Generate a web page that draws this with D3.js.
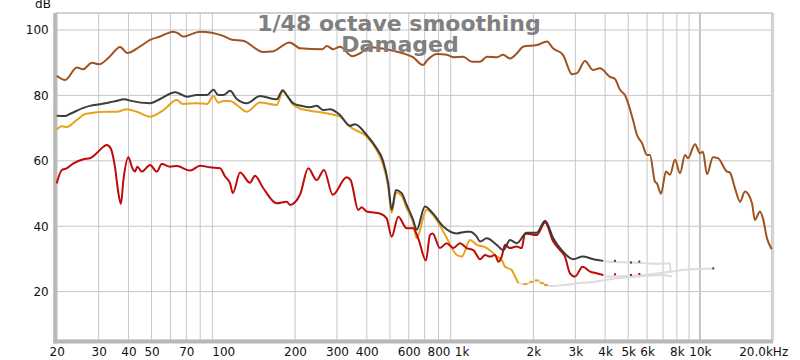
<!DOCTYPE html>
<html>
<head>
<meta charset="utf-8">
<script src="https://cdn.jsdelivr.net/npm/d3@7"></script>
<style>
  body { margin: 0; background: #fff; }
  svg { font-family: 'DejaVu Sans', sans-serif; }
</style>
</head>
<body>
<div id="chart"></div>
<script>
// Frequency response readings (Hz, dB)
let brownHz = [20, 21.7, 24.3, 25.8, 28.1, 30.1, 33.5, 36.9, 39.5, 44.8, 49.3, 54.3, 61.6, 64.6, 67.8, 79.9, 100, 109, 121, 147, 160, 190, 210, 260, 272, 289, 309, 347, 375, 413, 500, 567, 625, 688, 722, 788, 868, 920, 1014, 1106, 1195, 1278, 1408, 1492, 1596, 1708, 1810, 2072, 2282, 2417, 2663, 2905, 3048, 3294, 3557, 3806, 4192, 4400, 4618, 4843, 5237, 5443, 5713, 5995, 6170, 6475, 6600, 6863, 7200, 7486, 7857, 8246, 8655, 8905, 9533, 10000, 10294, 10700, 11340, 11900, 12980, 13365, 14027, 14722, 15451, 16530, 17010, 17855, 18380, 19110, 20000]
let brownDb = [86.0, 84.7, 88.5, 88.0, 90.0, 89.5, 92.0, 94.8, 93.0, 95.0, 97.0, 98.0, 99.5, 99.0, 98.0, 99.5, 98.2, 97.0, 96.7, 93.3, 93.4, 96.2, 94.4, 94.1, 95.1, 94.1, 94.9, 92.0, 92.9, 94.7, 93.9, 92.9, 91.7, 89.3, 91.0, 92.7, 92.4, 91.7, 91.8, 90.3, 90.3, 91.8, 91.7, 92.4, 91.3, 92.9, 94.9, 95.4, 96.5, 94.4, 92.4, 86.5, 86.8, 90.5, 87.8, 88.3, 85.7, 85.0, 81.7, 80.1, 72.5, 67.9, 65.4, 61.8, 61.8, 53.6, 53.1, 49.9, 56.7, 55.7, 60.3, 56.2, 61.8, 60.8, 65.1, 62.3, 62.8, 55.9, 61.1, 60.8, 56.7, 56.4, 51.6, 47.5, 50.6, 47.0, 41.9, 44.5, 42.4, 36.3, 33.0]

let grayHz = [20, 21.7, 22.7, 25.9, 27.6, 30.4, 34.6, 38.7, 40.6, 49.3, 54.3, 62.8, 70.3, 77.4, 85.5, 90.9, 95.3, 100, 106.8, 113.9, 125.4, 142.5, 167.5, 177.5, 184.5, 196.7, 209.8, 231, 246.5, 262.8, 280.4, 308.9, 340, 356.8, 399.6, 440, 466.4, 492, 508.6, 530.4, 560, 588, 626.6, 647.4, 701.6, 755.8, 837.4, 953.9, 1050, 1085, 1157, 1195, 1274, 1404, 1496, 1596, 1703, 1876, 2066, 2239, 2424, 2629, 2941, 3221, 3568, 3929]
let grayDb = [73.8, 73.7, 74.3, 76.2, 76.8, 77.3, 78.1, 78.8, 78.4, 77.6, 78.9, 81.0, 79.6, 80.1, 80.1, 81.7, 80.1, 80.1, 81.4, 78.9, 77.6, 79.8, 78.8, 81.6, 80.1, 77.6, 76.9, 76.4, 76.8, 75.5, 75.8, 74.0, 70.7, 71.2, 67.9, 63.8, 60.3, 53.1, 45.0, 51.1, 50.1, 46.5, 41.9, 38.9, 46.0, 44.0, 39.9, 37.8, 38.3, 38.3, 36.8, 35.3, 36.3, 34.3, 32.7, 35.8, 34.8, 38.0, 38.0, 41.7, 36.3, 32.7, 29.9, 30.7, 29.9, 29.4]

let orangeHz = [20, 21.0, 22.0, 24.3, 26.3, 28.5, 31.9, 35.7, 39.3, 43.3, 49.3, 56.1, 63.8, 67.6, 77.4, 85.5, 90.9, 95.3, 100, 106.8, 113.9, 125.4, 142.5, 167.5, 177.5, 196.7, 209.8, 231, 262.8, 308.9, 340, 399.6, 440, 466.4, 492, 508.6, 530.4, 560, 588, 626.6, 647.4, 713, 785, 865, 954, 1001, 1085, 1157, 1254, 1338, 1404, 1473, 1521, 1622, 1675, 1729]
let orangeDb = [69.6, 70.6, 70.3, 72.5, 74.3, 74.7, 75.0, 75.0, 75.8, 75.0, 73.5, 75.5, 78.6, 77.4, 77.6, 77.4, 79.8, 77.8, 78.3, 78.3, 77.1, 75.0, 77.8, 77.1, 81.1, 77.1, 76.0, 75.3, 74.7, 73.5, 70.4, 67.4, 63.3, 59.2, 52.1, 44.1, 50.3, 49.3, 45.5, 40.9, 36.3, 45.0, 41.9, 36.5, 31.2, 30.7, 35.8, 34.3, 33.6, 32.2, 30.7, 29.7, 27.6, 26.6, 24.6, 22.6]

let redHz = [20, 21.0, 22.0, 23.5, 25.9, 27.6, 29.4, 31.4, 32.4, 33.7, 35.1, 36.3, 37.2, 38.1, 40.0, 41.3, 42.6, 43.6, 45.5, 49.3, 52.6, 55.2, 59.8, 63.8, 72.6, 79.9, 88.0, 96.9, 101.7, 106.8, 109.6, 117.6, 129.4, 135.8, 147.2, 167.5, 184.5, 190.5, 209.8, 227.3, 246.5, 264.6, 287.8, 329.4, 342.3, 368.4, 380.7, 399.6, 454.4, 484.7, 508.6, 542.2, 588, 626.6, 657.6, 708.5, 736.4, 755.8, 811.2, 865, 923, 984.7, 1050, 1120, 1195, 1254, 1316, 1381, 1426, 1473, 1521, 1596, 1703, 1786, 1845, 2066, 2239, 2424, 2586, 2714, 2849, 2990, 3221, 3457, 3686, 3929]
let redDb = [53.1, 57.2, 57.7, 59.2, 60.5, 60.8, 62.3, 64.3, 64.8, 63.8, 58.2, 50.1, 46.8, 54.1, 61.1, 58.2, 56.7, 58.2, 56.7, 58.7, 56.7, 59.0, 58.2, 58.4, 57.0, 58.5, 58.0, 57.7, 55.2, 53.1, 50.1, 56.4, 53.3, 55.4, 51.6, 47.0, 47.5, 46.5, 49.6, 57.7, 54.1, 57.2, 49.6, 55.0, 54.1, 45.0, 45.8, 44.5, 43.9, 42.4, 36.8, 42.9, 39.4, 39.4, 36.3, 29.5, 37.3, 37.8, 33.3, 34.8, 33.3, 34.8, 33.3, 32.7, 29.9, 31.2, 30.7, 31.2, 29.1, 30.7, 34.3, 33.3, 33.8, 33.3, 37.8, 37.3, 41.1, 35.3, 32.7, 30.7, 25.6, 24.6, 27.6, 26.1, 25.6, 25.1]

// below-noise continuations, drawn faint
let orangeFaintHz = [1729, 1845, 2066, 2275, 2365, 2670, 3138, 3686, 4192, 5087, 5975, 7017, 7606]
let orangeFaintDb = [22.6, 22.3, 23.4, 22.0, 21.7, 22.0, 22.6, 23.1, 23.8, 24.4, 24.8, 25.1, 24.6]
let grayFaintHz = [3929, 4061, 5136, 6600, 7486, 7520]
let grayFaintDb = [29.4, 29.2, 28.9, 28.5, 28.7, 26.1]
let redFaintHz = [3929, 4061, 5784, 7486, 9083, 11373]
let redFaintDb = [25.1, 24.6, 25.1, 26.1, 26.8, 27.1]

// short coloured bits that survive inside the faint parts
let orangeDotHz = [1850, 1960, 2070, 2170, 2260]
let orangeDotDb = [22.3, 23.0, 23.4, 22.6, 22.0]
let grayDotHz = [4400, 5136, 5565, 11373]
let grayDotDb = [29.4, 28.9, 29.2, 27.1]
let redDotHz = [4400, 5136, 5565]
let redDotDb = [25.3, 25.1, 25.4]

let xTicks = [20, 30, 40, 50, 70, 100, 200, 300, 400, 600, 800, 1000, 2000, 3000, 4000, 5000, 6000, 8000, 10000, 20000]
let xLabels = ['20', '30', '40', '50', '70', '100', '200', '300', '400', '600', '800', '1k', '2k', '3k', '4k', '5k', '6k', '8k', '10k', '20.0kHz']
let yTicks = [20, 40, 60, 80, 100]

let width = 800
let height = 360
let margin = { top: 13, left: 56.7, right: 28.3, bottom: 20 }

let svg = d3
  .select('#chart')
  .append('svg')
  .attr('width', width)
  .attr('height', height)

let xPositionScale = d3.scaleLog().domain([20, 20000]).range([margin.left, width - margin.right])
let yPositionScale = d3.scaleLinear().domain([5.2, 105.2]).range([height - margin.bottom, margin.top])

let x0 = margin.left
let x1 = width - margin.right
let y0 = margin.top
let y1 = height - margin.bottom

// grid lines
let gridHz = []
;[10, 100, 1000].forEach(dec => {
  d3.range(2, 10).forEach(m => gridHz.push(m * dec))
})
gridHz.push(10000)

svg
  .selectAll('.vgrid')
  .data(gridHz)
  .enter()
  .append('line')
  .attr('class', 'vgrid')
  .attr('x1', d => xPositionScale(d))
  .attr('x2', d => xPositionScale(d))
  .attr('y1', y0)
  .attr('y2', y1)
  .attr('stroke', d => ([100, 1000, 10000].includes(d) ? '#8a8a8a' : '#c6c6c6'))
  .attr('stroke-width', 1)

svg
  .selectAll('.hgrid')
  .data(yTicks)
  .enter()
  .append('line')
  .attr('class', 'hgrid')
  .attr('x1', x0)
  .attr('x2', x1)
  .attr('y1', d => yPositionScale(d))
  .attr('y2', d => yPositionScale(d))
  .attr('stroke', '#c6c6c6')
  .attr('stroke-width', 1)

// frame with shadow on left and bottom
svg
  .append('rect')
  .attr('x', x0)
  .attr('y', y0)
  .attr('width', x1 - x0)
  .attr('height', y1 - y0)
  .attr('fill', 'none')
  .attr('stroke', '#c4c4c4')
  .attr('stroke-width', 1.5)
svg
  .append('rect')
  .attr('x', x0 - 3.5)
  .attr('y', y0)
  .attr('width', 3.5)
  .attr('height', y1 - y0 + 3.5)
  .attr('fill', '#b8b8b8')
svg
  .append('rect')
  .attr('x', x0 - 3.5)
  .attr('y', y1)
  .attr('width', x1 - x0 + 5)
  .attr('height', 3.5)
  .attr('fill', '#b8b8b8')
svg
  .append('rect')
  .attr('x', x1)
  .attr('y', y0)
  .attr('width', 2.5)
  .attr('height', y1 - y0)
  .attr('fill', '#d6d6d6')

let line = d3
  .line()
  .x(d => xPositionScale(d[0]))
  .y(d => yPositionScale(d[1]))
  .curve(d3.curveMonotoneX)

let zip = (hz, db) => hz.map((h, i) => [h, db[i]])

let plot = svg.append('g')

// faint parts first
let faint = [
  zip(orangeFaintHz, orangeFaintDb),
  zip(grayFaintHz, grayFaintDb),
  zip(redFaintHz, redFaintDb)
]
plot
  .selectAll('.faint')
  .data(faint)
  .enter()
  .append('path')
  .attr('class', 'faint')
  .attr('d', line)
  .attr('fill', 'none')
  .attr('stroke', '#dcdcdc')
  .attr('stroke-width', 2)

let series = [
  { data: zip(brownHz, brownDb), color: '#a0521e' },
  { data: zip(orangeHz, orangeDb), color: '#e8a21c' },
  { data: zip(redHz, redDb), color: '#c00a0a' },
  { data: zip(grayHz, grayDb), color: '#3c3c3c' }
]
plot
  .selectAll('.curve')
  .data(series)
  .enter()
  .append('path')
  .attr('class', 'curve')
  .attr('d', d => line(d.data))
  .attr('fill', 'none')
  .attr('stroke', d => d.color)
  .attr('stroke-width', 2)
  .attr('stroke-linejoin', 'round')

let dots = [
  { data: zip(orangeDotHz, orangeDotDb), color: '#e8a21c', w: 4 },
  { data: zip(grayDotHz, grayDotDb), color: '#3c3c3c', w: 2 },
  { data: zip(redDotHz, redDotDb), color: '#c00a0a', w: 2 }
]
dots.forEach(s => {
  plot
    .selectAll(null)
    .data(s.data)
    .enter()
    .append('rect')
    .attr('x', d => xPositionScale(d[0]) - s.w / 2)
    .attr('y', d => yPositionScale(d[1]) - 1)
    .attr('width', s.w)
    .attr('height', 2)
    .attr('fill', s.color)
})

// axes
let xAxis = d3
  .axisBottom(xPositionScale)
  .tickValues(xTicks)
  .tickFormat((d, i) => xLabels[i])
  .tickSize(0)
  .tickPadding(7)
let xg = svg
  .append('g')
  .attr('transform', `translate(0, ${y1})`)
  .call(xAxis)
xg.select('.domain').remove()
xg.selectAll('text')
  .attr('font-size', 12)
  .attr('font-family', 'DejaVu Sans')
  .attr('fill', '#111')
xg.selectAll('text')
  .filter(d => d === 20000)
  .attr('text-anchor', 'end')
  .attr('dx', 16)

let yAxis = d3
  .axisLeft(yPositionScale)
  .tickValues(yTicks)
  .tickSize(0)
  .tickPadding(7)
let yg = svg
  .append('g')
  .attr('transform', `translate(${x0 - 1}, 0)`)
  .call(yAxis)
yg.select('.domain').remove()
yg.selectAll('text')
  .attr('font-size', 12)
  .attr('font-family', 'DejaVu Sans')
  .attr('fill', '#111')

svg
  .append('text')
  .attr('x', 43)
  .attr('y', 8)
  .attr('text-anchor', 'middle')
  .attr('font-size', 12)
  .attr('fill', '#111')
  .text('dB')

// title
svg
  .append('text')
  .attr('x', 399)
  .attr('y', 31)
  .attr('text-anchor', 'middle')
  .attr('font-size', 22)
  .attr('font-weight', 'bold')
  .attr('fill', '#808080')
  .text('1/48 octave smoothing')
svg
  .append('text')
  .attr('x', 400)
  .attr('y', 51.5)
  .attr('text-anchor', 'middle')
  .attr('font-size', 22)
  .attr('font-weight', 'bold')
  .attr('fill', '#808080')
  .text('Damaged')
</script>
</body>
</html>
